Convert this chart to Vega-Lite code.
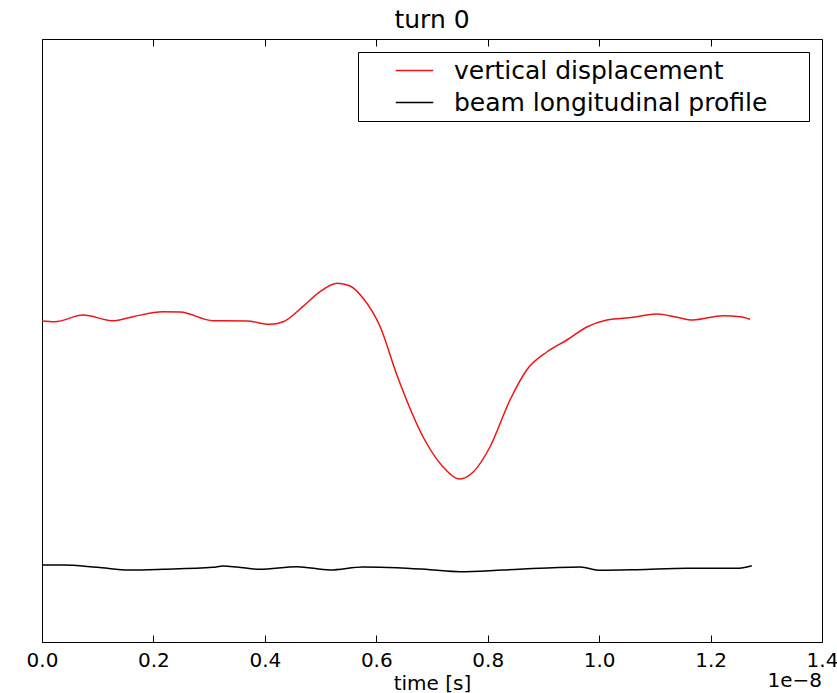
{
  "$schema": "https://vega.github.io/schema/vega-lite/v6.json",
  "width": 780,
  "height": 603,
  "autosize": {"type": "none"},
  "padding": {"left": 42, "top": 39, "right": 15, "bottom": 51},
  "background": "white",
  "title": {"text": "turn 0", "fontSize": 25, "fontWeight": "normal", "font": "DejaVu Sans", "offset": 6, "color": "black"},
  "config": {
    "font": "DejaVu Sans",
    "view": {"stroke": "black", "strokeWidth": 1},
    "axis": {"grid": false, "domainColor": "black", "tickColor": "black", "labelColor": "black", "titleColor": "black", "titleFontWeight": "normal"},
    "legend": {
      "orient": "top-right", "offset": 13, "strokeColor": "black", "fillColor": "white", "padding": 5,
      "symbolType": "M -1.5 0 L 1.5 0", "symbolSize": 625, "symbolStrokeWidth": 1.5, "labelFontSize": 25, "labelColor": "black",
      "labelOffset": 26, "symbolOffset": 38, "rowPadding": 5, "cornerRadius": 0, "labelLimit": 0
    }
  },
  "datasets": {
    "curves": [
      {"t": 0.0, "v": 321, "series": "vertical displacement"},
      {"t": 0.023, "v": 320.3, "series": "vertical displacement"},
      {"t": 0.074, "v": 327, "series": "vertical displacement"},
      {"t": 0.127, "v": 321.3, "series": "vertical displacement"},
      {"t": 0.163, "v": 325.3, "series": "vertical displacement"},
      {"t": 0.217, "v": 330.3, "series": "vertical displacement"},
      {"t": 0.248, "v": 330, "series": "vertical displacement"},
      {"t": 0.307, "v": 321.3, "series": "vertical displacement"},
      {"t": 0.368, "v": 321, "series": "vertical displacement"},
      {"t": 0.409, "v": 317.7, "series": "vertical displacement"},
      {"t": 0.433, "v": 320.3, "series": "vertical displacement"},
      {"t": 0.468, "v": 335.3, "series": "vertical displacement"},
      {"t": 0.499, "v": 350.3, "series": "vertical displacement"},
      {"t": 0.530, "v": 358.7, "series": "vertical displacement"},
      {"t": 0.553, "v": 356, "series": "vertical displacement"},
      {"t": 0.576, "v": 344, "series": "vertical displacement"},
      {"t": 0.607, "v": 315.3, "series": "vertical displacement"},
      {"t": 0.637, "v": 267, "series": "vertical displacement"},
      {"t": 0.687, "v": 202, "series": "vertical displacement"},
      {"t": 0.720, "v": 175, "series": "vertical displacement"},
      {"t": 0.750, "v": 163, "series": "vertical displacement"},
      {"t": 0.774, "v": 170, "series": "vertical displacement"},
      {"t": 0.804, "v": 195, "series": "vertical displacement"},
      {"t": 0.840, "v": 242, "series": "vertical displacement"},
      {"t": 0.870, "v": 272, "series": "vertical displacement"},
      {"t": 0.906, "v": 290, "series": "vertical displacement"},
      {"t": 0.942, "v": 302, "series": "vertical displacement"},
      {"t": 0.978, "v": 315, "series": "vertical displacement"},
      {"t": 1.014, "v": 322, "series": "vertical displacement"},
      {"t": 1.061, "v": 324.7, "series": "vertical displacement"},
      {"t": 1.104, "v": 328, "series": "vertical displacement"},
      {"t": 1.140, "v": 324.7, "series": "vertical displacement"},
      {"t": 1.168, "v": 322, "series": "vertical displacement"},
      {"t": 1.222, "v": 326.3, "series": "vertical displacement"},
      {"t": 1.253, "v": 325.3, "series": "vertical displacement"},
      {"t": 1.271, "v": 322.7, "series": "vertical displacement"},
      {"t": 0.0, "v": 77, "series": "beam longitudinal profile"},
      {"t": 0.038, "v": 77, "series": "beam longitudinal profile"},
      {"t": 0.099, "v": 74.7, "series": "beam longitudinal profile"},
      {"t": 0.158, "v": 72, "series": "beam longitudinal profile"},
      {"t": 0.217, "v": 72.7, "series": "beam longitudinal profile"},
      {"t": 0.307, "v": 74.7, "series": "beam longitudinal profile"},
      {"t": 0.325, "v": 76, "series": "beam longitudinal profile"},
      {"t": 0.350, "v": 75, "series": "beam longitudinal profile"},
      {"t": 0.391, "v": 72.7, "series": "beam longitudinal profile"},
      {"t": 0.458, "v": 75.3, "series": "beam longitudinal profile"},
      {"t": 0.517, "v": 72, "series": "beam longitudinal profile"},
      {"t": 0.576, "v": 75, "series": "beam longitudinal profile"},
      {"t": 0.637, "v": 74.3, "series": "beam longitudinal profile"},
      {"t": 0.696, "v": 72.3, "series": "beam longitudinal profile"},
      {"t": 0.750, "v": 70.3, "series": "beam longitudinal profile"},
      {"t": 0.827, "v": 72, "series": "beam longitudinal profile"},
      {"t": 0.917, "v": 74.3, "series": "beam longitudinal profile"},
      {"t": 0.966, "v": 75, "series": "beam longitudinal profile"},
      {"t": 1.002, "v": 71.7, "series": "beam longitudinal profile"},
      {"t": 1.068, "v": 72.3, "series": "beam longitudinal profile"},
      {"t": 1.158, "v": 73.7, "series": "beam longitudinal profile"},
      {"t": 1.247, "v": 73.7, "series": "beam longitudinal profile"},
      {"t": 1.274, "v": 76.3, "series": "beam longitudinal profile"}
    ],
    "offsetText": [
      {"t": 1.4, "v": -39, "label": "1e−8"}
    ]
  },
  "layer": [
    {
      "data": {"name": "curves"},
      "mark": {"type": "line", "strokeWidth": 1.5, "interpolate": "monotone"},
      "encoding": {
        "x": {
          "field": "t", "type": "quantitative",
          "scale": {"domain": [0, 1.4], "nice": false, "zero": false},
          "axis": {
            "orient": "bottom", "values": [0, 0.2, 0.4, 0.6, 0.8, 1.0, 1.2, 1.4], "format": ".1f",
            "labelFontSize": 20, "labelPadding": 15, "tickSize": -7, "labelFlush": false,
            "title": "time [s]", "titleFontSize": 20, "titlePadding": 3
          }
        },
        "y": {
          "field": "v", "type": "quantitative",
          "scale": {"domain": [0, 603], "nice": false, "zero": false},
          "axis": {"labels": false, "ticks": false, "title": "arbitary unit", "titleFontSize": 20, "titlePadding": 4}
        },
        "color": {
          "field": "series", "type": "nominal",
          "scale": {"domain": ["vertical displacement", "beam longitudinal profile"], "range": ["#f01414", "#000000"]},
          "legend": {"title": null, "labelExpr": "datum.label + '\u2800\u2800'"}
        }
      }
    },
    {
      "data": {"name": "offsetText"},
      "mark": {"type": "text", "align": "right", "baseline": "middle", "fontSize": 20, "color": "black", "clip": false},
      "encoding": {
        "x": {
          "field": "t", "type": "quantitative",
          "scale": {"domain": [0, 1.4], "nice": false, "zero": false},
          "axis": {"orient": "top", "values": [0, 0.2, 0.4, 0.6, 0.8, 1.0, 1.2, 1.4], "labels": false, "tickSize": -7, "domain": false, "title": null}
        },
        "y": {"field": "v", "type": "quantitative", "axis": null},
        "text": {"field": "label"}
      }
    }
  ],
  "resolve": {"axis": {"x": "independent"}}
}
